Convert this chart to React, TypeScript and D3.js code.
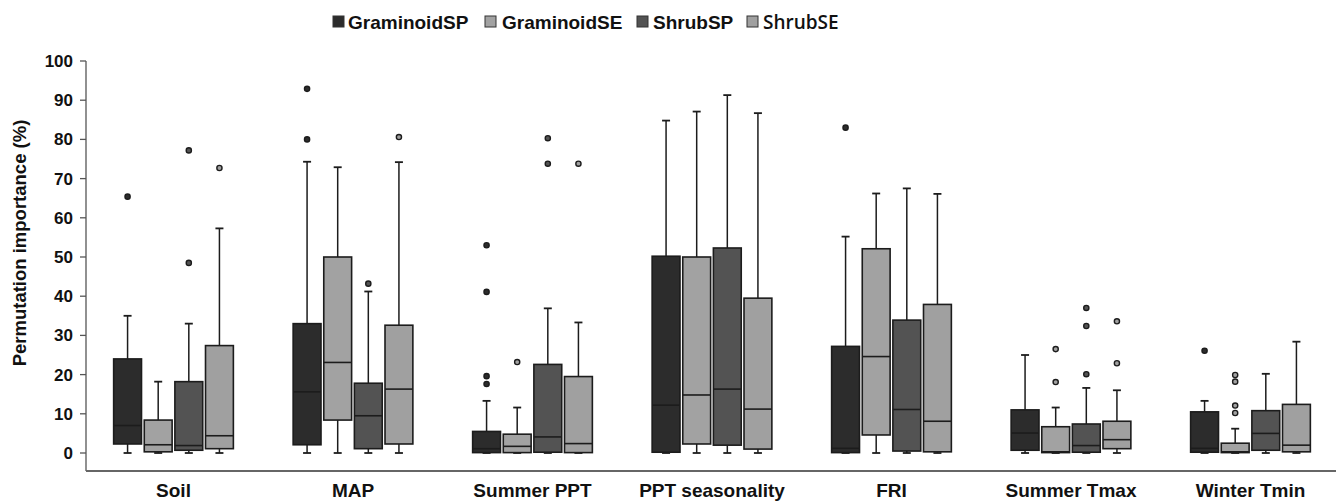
import React from "react";
import { scaleBand, scaleLinear } from "d3";

const categories = ["Soil", "MAP", "Summer PPT", "PPT seasonality", "FRI", "Summer Tmax", "Winter Tmin"];
const series = ["GraminoidSP", "GraminoidSE", "ShrubSP", "ShrubSE"];
const seriesColors = ["#2c2c2c", "#a2a2a2", "#535353", "#a0a0a0"];
const yTicks = [0, 10, 20, 30, 40, 50, 60, 70, 80, 90, 100];

// rows = categories, columns = series
const whiskerHigh = [
  [35.0, 18.2, 33.0, 57.3],
  [74.3, 72.9, 41.2, 74.2],
  [13.3, 11.6, 36.9, 33.3],
  [84.8, 87.1, 91.3, 86.7],
  [55.2, 66.2, 67.5, 66.1],
  [25.0, 11.6, 16.6, 16.0],
  [13.3, 6.2, 20.2, 28.4],
];
const q3 = [
  [24.0, 8.4, 18.2, 27.4],
  [33.0, 50.0, 17.8, 32.6],
  [5.5, 4.8, 22.6, 19.5],
  [50.2, 50.0, 52.3, 39.5],
  [27.2, 52.1, 33.9, 37.9],
  [11.0, 6.7, 7.4, 8.1],
  [10.5, 2.5, 10.8, 12.4],
];
const median = [
  [7.0, 2.1, 1.9, 4.4],
  [15.6, 23.1, 9.5, 16.3],
  [1.1, 1.7, 4.1, 2.4],
  [12.2, 14.8, 16.3, 11.2],
  [1.2, 24.6, 11.1, 8.1],
  [5.1, 0.3, 1.9, 3.4],
  [1.2, 0.3, 5.0, 2.0],
];
const q1 = [
  [2.3, 0.3, 0.7, 1.1],
  [2.1, 8.4, 1.1, 2.3],
  [0.1, 0.1, 0.2, 0.1],
  [0.2, 2.3, 2.0, 1.0],
  [0.1, 4.6, 0.5, 0.3],
  [0.7, 0.1, 0.2, 1.1],
  [0.2, 0.1, 0.7, 0.3],
];
const whiskerLow = [
  [0, 0, 0, 0],
  [0, 0, 0, 0],
  [0, 0, 0, 0],
  [0, 0, 0, 0],
  [0, 0, 0, 0],
  [0, 0, 0, 0],
  [0, 0, 0, 0],
];
const outliers = [
  [[65.4], [], [77.2, 48.5], [72.7]],
  [[92.9, 80.0], [], [43.2], [80.6]],
  [[53.0, 41.1, 19.6, 17.6], [23.2], [80.3, 73.8], [73.8]],
  [[], [], [], []],
  [[83.0], [], [], []],
  [[], [26.5, 18.1], [37.0, 32.4, 20.1], [33.6, 22.9]],
  [[26.1], [19.9, 18.2, 12.1, 10.2], [], []],
];

const W = 1341;
const H = 502;
const axisX = 86;
const axisBottom = 471;
const font = "'Liberation Sans', Arial, sans-serif";
const stroke = "#1c1c1c";

export default function App() {
  const y = scaleLinear().domain([0, 100]).range([453, 61]);
  const x = scaleBand<string>().domain(categories).range([axisX, 1338]).paddingInner(0.333).paddingOuter(0.154);
  const xs = scaleBand<string>().domain(series).range([0, x.bandwidth()]).paddingInner(0.09);
  const bw = xs.bandwidth();
  const cap = 4;

  // legend layout
  const legendX = [333, 485, 637, 747];
  const legendText = [348, 502, 653, 763];

  return (
    <svg width={W} height={H} style={{ position: "absolute", left: 0, top: 0, background: "#fff" }}>
      {/* legend */}
      {series.map((s, i) => (
        <g key={s}>
          <rect x={legendX[i]} y={16} width={11} height={11} fill={seriesColors[i]} stroke="#333" strokeWidth={1} />
          <text
            x={legendText[i]}
            y={29}
            fontFamily={i === 3 ? "'Open Sans', sans-serif" : font}
            fontWeight={i === 3 ? 600 : 700}
            fontSize={19}
            fill="#111"
          >
            {s}
          </text>
        </g>
      ))}

      {/* y axis */}
      <line x1={axisX} x2={axisX} y1={y(100)} y2={axisBottom} stroke="#555" strokeWidth={1.3} />
      {yTicks.map((t) => (
        <g key={t}>
          <line x1={axisX - 6} x2={axisX} y1={y(t)} y2={y(t)} stroke="#555" strokeWidth={1.3} />
          <text x={73} y={y(t) + 6} textAnchor="end" fontFamily={font} fontWeight={700} fontSize={17} fill="#111">
            {t}
          </text>
        </g>
      ))}
      <text
        transform={`translate(26,${(y(100) + y(0)) / 2 - 14}) rotate(-90)`}
        textAnchor="middle"
        fontFamily={font}
        fontWeight={700}
        fontSize={18.5}
        fill="#111"
      >
        Permutation importance (%)
      </text>

      {/* x axis */}
      <line x1={axisX} x2={1336} y1={axisBottom} y2={axisBottom} stroke="#666" strokeWidth={1.8} />
      {categories.map((c) => (
        <text
          key={c}
          x={(x(c) as number) + x.bandwidth() / 2}
          y={497}
          textAnchor="middle"
          fontFamily={font}
          fontWeight={700}
          fontSize={19}
          fill="#111"
        >
          {c}
        </text>
      ))}

      {/* boxes */}
      {categories.map((c, ci) => (
        <g key={c} transform={`translate(${x(c)},0)`}>
          {series.map((s, si) => {
            const bx = xs(s) as number;
            const cx = bx + bw / 2;
            const top = y(q3[ci][si]);
            const bot = y(q1[ci][si]);
            return (
              <g key={s}>
                <line x1={cx} x2={cx} y1={y(whiskerHigh[ci][si])} y2={top} stroke={stroke} strokeWidth={1.5} />
                <line x1={cx} x2={cx} y1={bot} y2={y(whiskerLow[ci][si])} stroke={stroke} strokeWidth={1.5} />
                <line x1={cx - cap} x2={cx + cap} y1={y(whiskerHigh[ci][si])} y2={y(whiskerHigh[ci][si])} stroke={stroke} strokeWidth={1.8} />
                <line x1={cx - cap} x2={cx + cap} y1={y(whiskerLow[ci][si])} y2={y(whiskerLow[ci][si])} stroke={stroke} strokeWidth={1.8} />
                <rect x={bx} y={top} width={bw} height={Math.max(bot - top, 1)} fill={seriesColors[si]} stroke={stroke} strokeWidth={1.6} />
                <line x1={bx} x2={bx + bw} y1={y(median[ci][si])} y2={y(median[ci][si])} stroke={stroke} strokeWidth={1.6} />
                {outliers[ci][si].map((v, k) => (
                  <circle key={k} cx={cx} cy={y(v)} r={2.6} fill={seriesColors[si]} stroke={stroke} strokeWidth={1.4} />
                ))}
              </g>
            );
          })}
        </g>
      ))}
    </svg>
  );
}
